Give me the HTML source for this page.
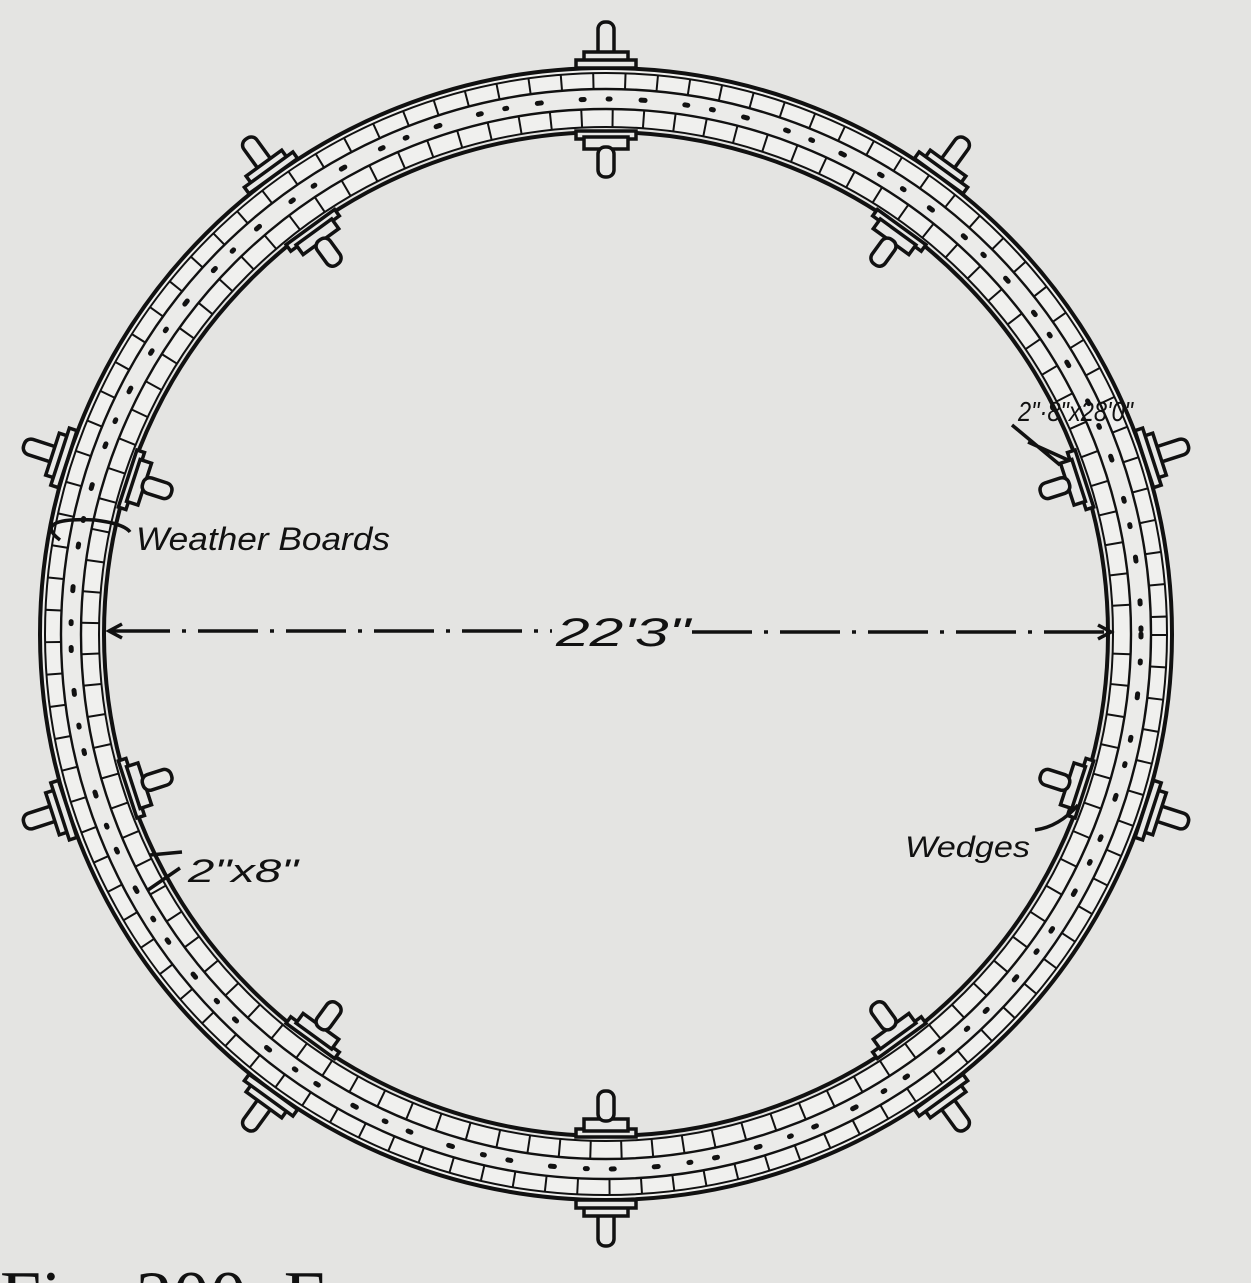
<!DOCTYPE html>
<html><head><meta charset="utf-8"><style>
html,body{margin:0;padding:0;background:#e4e4e2;}
svg{display:block}
.t{font-family:"Liberation Sans",sans-serif;font-style:italic;fill:#111;}
</style></head><body>
<svg width="1251" height="1283" viewBox="0 0 1251 1283" xmlns="http://www.w3.org/2000/svg">
<rect width="1251" height="1283" fill="#e4e4e2"/>
<defs>
<g id="bolt" fill="#e8e8e6" stroke="#111" stroke-width="3.5">
  <rect x="598" y="22" width="16" height="38" rx="7"/>
  <rect x="584" y="52" width="44" height="11"/>
  <rect x="576" y="60" width="60" height="8"/>
  <rect x="576" y="131" width="60" height="8"/>
  <rect x="584" y="137" width="44" height="12"/>
  <rect x="598" y="147" width="16" height="30" rx="7"/>
</g>
</defs>
<g fill="none" stroke="#111">
  <circle cx="606" cy="634" r="554" stroke="#f0f0ee" stroke-width="20"/>
  <circle cx="606" cy="634" r="516" stroke="#f0f0ee" stroke-width="20"/>
  <circle cx="606" cy="634" r="535" stroke="#ebebe9" stroke-width="18"/>
  <circle cx="606" cy="634" r="566" stroke-width="4"/>
  <circle cx="606" cy="634" r="561" stroke-width="2"/>
  <circle cx="606" cy="634" r="545" stroke-width="2.4"/>
  <circle cx="606" cy="634" r="525" stroke-width="2.4"/>
  <circle cx="606" cy="634" r="507" stroke-width="2"/>
  <circle cx="606" cy="634" r="502" stroke-width="4"/>
  <circle cx="606" cy="634" r="553" stroke-width="15" stroke-dasharray="2 30"/>
  <circle cx="606" cy="634" r="516" stroke-width="17" stroke-dasharray="2 29" stroke-dashoffset="12"/>
  <circle cx="606" cy="634" r="535" stroke-width="5" stroke-dasharray="3 24 2 31 4 40" stroke-linecap="round"/>
</g>
<use href="#bolt"/>
<use href="#bolt" transform="rotate(36 606 634)"/>
<use href="#bolt" transform="rotate(72 606 634)"/>
<use href="#bolt" transform="rotate(108 606 634)"/>
<use href="#bolt" transform="rotate(144 606 634)"/>
<use href="#bolt" transform="rotate(180 606 634)"/>
<use href="#bolt" transform="rotate(216 606 634)"/>
<use href="#bolt" transform="rotate(252 606 634)"/>
<use href="#bolt" transform="rotate(288 606 634)"/>
<use href="#bolt" transform="rotate(324 606 634)"/>
<g stroke="#111" stroke-width="3.5" fill="none">
  <line x1="110" y1="631" x2="552" y2="631" stroke-dasharray="60 12 4 12"/>
  <line x1="692" y1="632" x2="1110" y2="632" stroke-dasharray="60 12 4 12"/>
  <polyline points="122,624 109,631 122,638"/>
  <polyline points="1098,625 1111,632 1098,639"/>
  <path d="M60 540 C40 525 55 518 95 520 C110 522 125 525 130 532"/>
  <path d="M1035 830 C1050 828 1065 820 1078 805"/>
  <path d="M1012 425 L1060 465 M1028 442 L1068 460"/>
  <path d="M182 852 L150 855 M180 868 L148 890"/>
</g>
<text class="t" x="136" y="550" font-size="32" textLength="254" lengthAdjust="spacingAndGlyphs">Weather Boards</text>
<text class="t" x="556" y="646" font-size="40" textLength="134" lengthAdjust="spacingAndGlyphs">22'3"</text>
<text class="t" x="1018" y="421" font-size="28" textLength="115" lengthAdjust="spacingAndGlyphs">2"·8"x28'0"</text>
<text class="t" x="905" y="857" font-size="30" textLength="125" lengthAdjust="spacingAndGlyphs">Wedges</text>
<text class="t" x="188" y="882" font-size="32" textLength="110" lengthAdjust="spacingAndGlyphs">2"x8"</text>
<text x="0" y="1322" font-family="Liberation Serif,serif" font-size="74" fill="#111">Fig. 200.   F</text>
</svg>
</body></html>
